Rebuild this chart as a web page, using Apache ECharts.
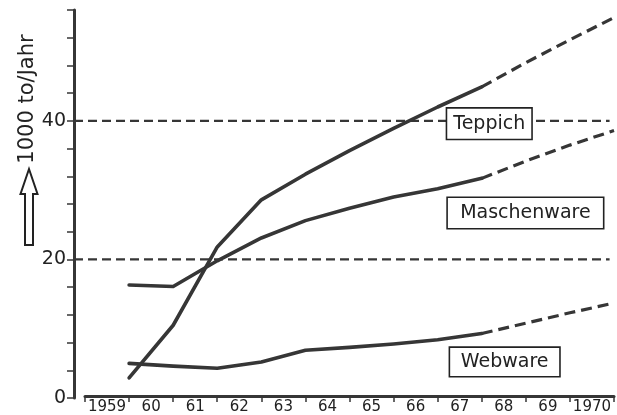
<!DOCTYPE html>
<html>
<head>
<meta charset="utf-8">
<script src="https://cdn.jsdelivr.net/npm/echarts@6/dist/echarts.min.js"></script>
<style>html,body{margin:0;padding:0;background:#fff;}#c{width:617px;height:415px;}</style>
</head>
<body>
<div id="c"></div>
<script>
// Category labels on the time axis (one band per year)
const yearLabels = ['1959','60','61','62','63','64','65','66','67','68','69','1970'];
// Measured values at year ends
const measYears = [1960,1961,1962,1963,1964,1965,1966,1967,1968];
const teppich     = [2.9,10.5,21.8,28.6,32.3,35.7,38.9,42.0,44.9];
const maschenware = [16.3,16.1,19.8,23.1,25.6,27.4,29.0,30.2,31.7];
const webware     = [5.0,4.6,4.3,5.2,6.9,7.3,7.8,8.4,9.3];
// Projections (dashed)
const projYears   = [1968,1969,1970,1971];
const teppichProj = [44.9,48.4,51.7,54.9];
const maschenProj = [31.7,34.2,36.5,38.6];
const webwareProj = [9.3,10.8,12.3,13.7];
// Reference levels
const refLevels = [20,40];
const yTickLabels = [0,20,40];
// Series label annotations [name, year, value]
const seriesLabels = [['Teppich',1968.17,39.6],['Maschenware',1968.99,26.7],['Webware',1968.52,5.2]];

const zip = (xs, ys) => xs.map((x,i)=>[x, ys[i]]);
const ink = '#363636';
const font = 'DejaVu Sans';
const boxSizes = {Teppich:[84,32], Maschenware:[155,32], Webware:[109,30]};

const chart = echarts.init(document.getElementById('c'), null, {renderer:'canvas'});

const series = [];
refLevels.forEach(v=>{
  series.push({type:'line', xAxisIndex:1, yAxisIndex:1, symbol:'none', silent:true,
    data:[[1958.75,v],[1970.9,v]],
    lineStyle:{color:ink, width:2.2, type:[9,5]}, z:2});
});
const solid = (xs, ys) => ({type:'line', xAxisIndex:1, yAxisIndex:1, symbol:'none', data:zip(xs,ys),
  lineStyle:{color:ink, width:3.6, cap:'round', join:'round'}, z:3});
const dashed = (xs, ys) => ({type:'line', xAxisIndex:1, yAxisIndex:1, symbol:'none', data:zip(xs,ys),
  lineStyle:{color:ink, width:3.2, type:[11,6]}, z:3});
series.push(solid(measYears, teppich));
series.push(dashed(projYears, teppichProj));
series.push(solid(measYears, maschenware));
series.push(dashed(projYears, maschenProj));
series.push(solid(measYears, webware));
series.push(dashed(projYears, webwareProj));
series.push({type:'scatter', xAxisIndex:1, yAxisIndex:1, data:[], z:10,
  markPoint:{
    silent:true,
    data: seriesLabels.map(([n,x,y])=>({
      coord:[x,y], symbol:'rect', symbolSize:1,
      itemStyle:{color:'rgba(0,0,0,0)'},
      label:{show:true, position:'inside', formatter:n, color:'#222', fontSize:19, fontFamily:font,
        width:boxSizes[n][0]-4, height:boxSizes[n][1]-4, lineHeight:boxSizes[n][1]-4,
        align:'center', verticalAlign:'middle', padding:[1,2,1,2],
        backgroundColor:'#fff', borderColor:'#222', borderWidth:1.6}
    }))
  }
});

chart.setOption({
  animation:false,
  backgroundColor:'#fff',
  grid:[
    {left:85, right:3, top:10, bottom:17},
    {left:74, right:3, top:10, bottom:17}
  ],
  xAxis:[
    {gridIndex:0, type:'category', data:yearLabels, boundaryGap:true, position:'bottom',
      axisLine:{show:true, lineStyle:{color:ink, width:3}},
      axisTick:{show:true, interval:0, length:6, lineStyle:{color:ink, width:1.5}},
      axisLabel:{interval:0, margin:4, color:'#222', fontSize:15, fontFamily:font},
      splitLine:{show:false}},
    {gridIndex:1, type:'value', min:1958.75, max:1971, show:false, splitLine:{show:false}}
  ],
  yAxis:[
    {gridIndex:0, type:'value', min:0, max:56, show:false, splitLine:{show:false}},
    {gridIndex:1, type:'value', min:0, max:56, interval:4,
      axisLine:{show:true, lineStyle:{color:ink, width:3}},
      axisTick:{show:true, length:7, lineStyle:{color:ink, width:1.5}},
      axisLabel:{margin:8, color:'#222', fontSize:19, fontFamily:font,
        formatter:v=> yTickLabels.includes(v) ? String(v) : ''},
      splitLine:{show:false}}
  ],
  graphic:[
    {type:'text', x:28, y:99, rotation:Math.PI/2,
      style:{text:'1000 to/Jahr', fontSize:21, fontFamily:font, fill:'#222', align:'center', verticalAlign:'middle'}},
    {type:'polygon', shape:{points:[[25,245],[33,245],[33,194],[37.5,194],[29,169],[20.5,194],[25,194]]},
      style:{fill:'#fff', stroke:'#222', lineWidth:2}}
  ],
  series:series
});
</script>
</body>
</html>
